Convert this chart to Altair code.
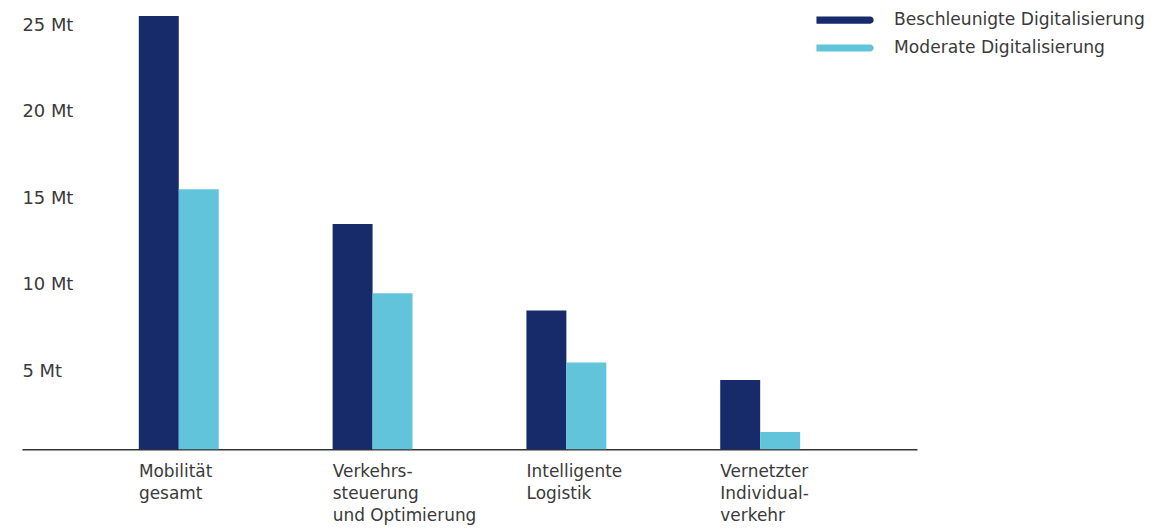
import altair as alt
import pandas as pd

categories = [
    "Mobilität|gesamt",
    "Verkehrs-|steuerung|und Optimierung",
    "Intelligente|Logistik",
    "Vernetzter|Individual-|verkehr",
]
series = ["Beschleunigte Digitalisierung", "Moderate Digitalisierung"]
beschleunigt = [25, 13, 8, 4]
moderat = [15, 9, 5, 1]
y_ticks = [5, 10, 15, 20, 25]
colors = ["#172B6B", "#62C4DA"]

rows = []
for i, c in enumerate(categories):
    rows.append({"Kategorie": c, "Szenario": series[0], "Wert": beschleunigt[i]})
    rows.append({"Kategorie": c, "Szenario": series[1], "Wert": moderat[i]})
df = pd.DataFrame(rows)

FONT = "DejaVu Sans"
TEXT = "#3a3a3a"
legend_path = ("M-1,-0.133 L1,-0.133 A0.133,0.133 0 0 1 1,0.133 "
               "L-1,0.133 A0.133,0.133 0 0 1 -1,-0.133 Z")

chart = alt.Chart(df).mark_bar().encode(
    x=alt.X(
        "Kategorie:N", sort=categories, title=None,
        scale=alt.Scale(paddingInner=0.5876, paddingOuter=0.603),
        axis=alt.Axis(
            labelAngle=0, labelAlign="left", labelBaseline="top", labelOffset=-40,
            ticks=False, labelPadding=14, labelExpr="split(datum.label, '|')",
            labelLineHeight=22.5, domainColor="#333333", domainWidth=1.5,
            labelFontSize=17, labelColor=TEXT, labelFont=FONT, grid=False,
        ),
    ),
    xOffset=alt.XOffset("Szenario:N", sort=series,
                        scale=alt.Scale(paddingInner=0, paddingOuter=0)),
    y=alt.Y(
        "Wert:Q", title=None,
        scale=alt.Scale(domain=[0, 25], nice=False),
        axis=alt.Axis(
            values=y_ticks, labelExpr="datum.value + ' Mt'", domain=False,
            ticks=False, grid=False, labelAlign="left", labelBaseline="top",
            labelPadding=0, labelFontSize=18, labelColor=TEXT, labelFont=FONT,
        ),
    ),
    color=alt.Color(
        "Szenario:N", sort=series,
        scale=alt.Scale(domain=series, range=colors),
        legend=alt.Legend(
            title=None, orient="none", legendX=798, legendY=-5,
            symbolType=legend_path, symbolSize=2897, symbolStrokeWidth=0,
            labelFontSize=17.2, labelOffset=24, rowPadding=10, labelLimit=0,
            clipHeight=18,
            labelFont=FONT, labelColor=TEXT, symbolOpacity=1,
        ),
    ),
).properties(
    width=899, height=435,
    padding={"left": 14, "top": 7, "right": 230, "bottom": 80},
    autosize=alt.AutoSizeParams(type="none"),
).configure_view(stroke=None)

chart.save("out.html", embed_options={"renderer": "svg", "actions": False})
